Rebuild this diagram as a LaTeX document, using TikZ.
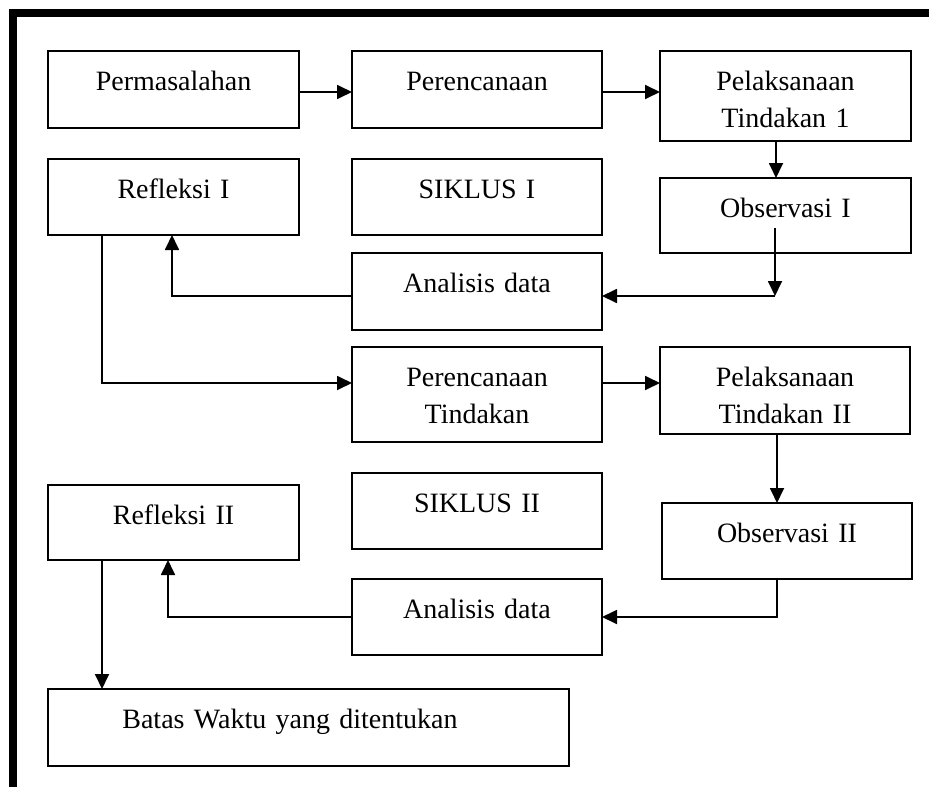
\documentclass[tikz,border=0pt]{standalone}
\usepackage{fontspec}
\setmainfont{Liberation Serif}
\usetikzlibrary{arrows.meta}
\begin{document}
\begin{tikzpicture}[x=1pt,y=-1pt,
  box/.style={draw, line width=1.8pt, inner sep=0pt, outer sep=0pt, anchor=north west,
    align=center, text height=39pt, font=\fontsize{28}{37.5}\selectfont},
  arr/.style={line width=1.8pt, -{Triangle[length=15pt,width=14pt]}},
  ln/.style={line width=1.8pt}]
\useasboundingbox (0,0) rectangle (929,787);
\draw[line width=7.5pt] (13,787) -- (13,13) -- (929,13);
% boxes
\node[box, text width=251pt, text depth=38pt] (perm) at (48,51) {Permasalahan};
\node[box, text width=250pt, text depth=38pt] (peren) at (352,51) {Perencanaan};
\node[box, text width=251pt, text depth=51pt] (pel1) at (660,51) {Pelaksanaan\\Tindakan 1};
\node[box, text width=251pt, text depth=37pt] (ref1) at (48,159) {Refleksi I};
\node[box, text width=250pt, text depth=37pt] (sik1) at (352,159) {SIKLUS I};
\node[box, text width=251pt, text depth=36pt] (obs1) at (660,178) {Observasi I};
\node[box, text width=250pt, text depth=38pt] (ana1) at (352,253) {Analisis data};
\node[box, text width=250pt, text depth=56pt] (peren2) at (352,347) {Perencanaan\\Tindakan};
\node[box, text width=250pt, text depth=48pt] (pel2) at (660,347) {Pelaksanaan\\Tindakan II};
\node[box, text width=250pt, text depth=37pt] (sik2) at (352,473) {SIKLUS II};
\node[box, text width=251pt, text depth=36pt] (ref2) at (48,485) {Refleksi II};
\node[box, text width=250pt, text depth=37pt] (obs2) at (662,503) {Observasi II};
\node[box, text width=250pt, text depth=37pt] (ana2) at (352,579) {Analisis data};
\node[box, text width=521pt, text depth=38pt] (batas) at (48,689) {Batas Waktu yang ditentukan\kern37pt\relax};
% helper coordinates
\coordinate (c0) at (0,92);
\coordinate (c1) at (775,296);
\coordinate (c2) at (172,296);
\coordinate (c3) at (102,383);
\coordinate (c4) at (777,617);
\coordinate (c5) at (168,617);
\coordinate (c6) at (776,0);
\coordinate (c7) at (775,228);
% connectors
\draw[arr] (c0 -| perm.east) -- (c0 -| peren.west);
\draw[arr] (c0 -| peren.east) -- (c0 -| pel1.west);
\draw[arr] (c6 |- pel1.south) -- (c6 |- obs1.north);
\draw[arr] (c7) -- (c1);
\draw[arr] (c1) -- (c1 -| ana1.east);
\draw[arr] (c2 -| ana1.west) -- (c2) -- (c2 |- ref1.south);
\draw[arr] (c3 |- ref1.south) -- (c3) -- (c3 -| peren2.west);
\draw[arr] (c3 -| peren2.east) -- (c3 -| pel2.west);
\draw[arr] (c4 |- pel2.south) -- (c4 |- obs2.north);
\draw[arr] (c4 |- obs2.south) -- (c4) -- (c4 -| ana2.east);
\draw[arr] (c5 -| ana2.west) -- (c5) -- (c5 |- ref2.south);
\draw[arr] (c3 |- ref2.south) -- (c3 |- batas.north);
\end{tikzpicture}
\end{document}
